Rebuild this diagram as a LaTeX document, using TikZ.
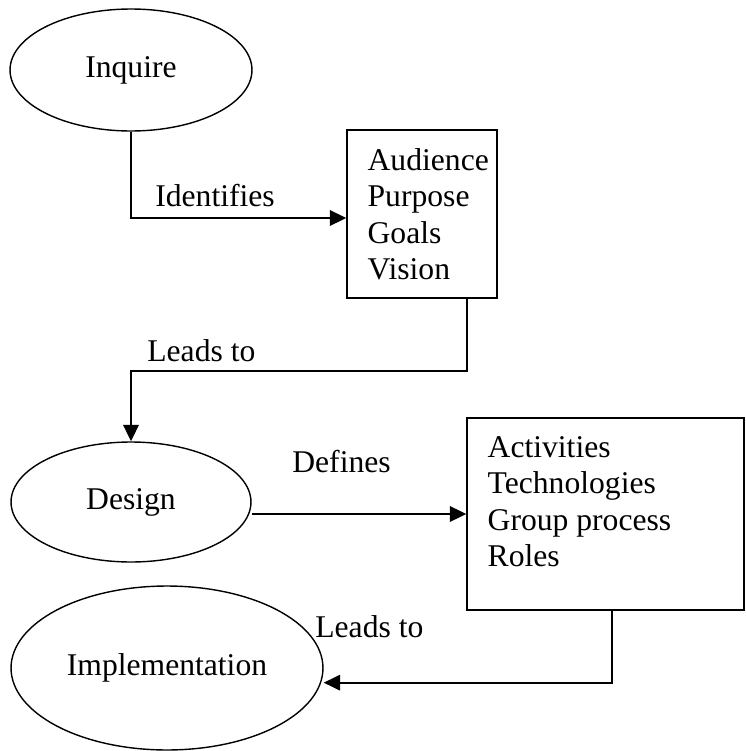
\documentclass[tikz,border=0pt]{standalone}
\usepackage{fontspec}
\setmainfont{Liberation Serif}
\usetikzlibrary{arrows.meta,positioning,shapes.geometric}

\tikzset{
  stage/.style={draw, ellipse, line width=0.8pt, inner sep=0pt},
  listbox/.style={draw, rectangle, line width=0.8pt, inner sep=0pt},
  listtext/.style={align=left, inner sep=0pt},
  linklabel/.style={anchor=base west, inner sep=0pt},
  flow/.style={line width=1.1pt, -{Triangle[length=0.33cm,width=0.31cm]}},
}

\begin{document}
\begin{tikzpicture}[x=0.02cm, y=-0.02cm, font=\fontsize{18}{20.8}\selectfont]
  \useasboundingbox (0,0) rectangle (745,751);

  % stages
  \node[stage, minimum width=4.84cm, minimum height=2.44cm] (inquire) at (131,70) {Inquire};
  \node[stage, minimum width=4.8cm, minimum height=2.4cm] (design) at (131,502) {Design};
  \node[stage, minimum width=6.24cm, minimum height=3.28cm] (implementation) at (167,668) {Implementation};

  % boxes and their lists
  \node[listbox, minimum width=3cm, minimum height=3.36cm] (aims) at (422,214) {};
  \node[listtext, below right=0.37cm and 0.42cm of aims.north west] (aimslist)
    {Audience\\Purpose\\Goals\\Vision};

  \node[listbox, minimum width=5.54cm, minimum height=3.84cm] (tasks) at (605.5,514) {};
  \node[listtext, below right=0.37cm and 0.42cm of tasks.north west] (taskslist)
    {Activities\\Technologies\\Group process\\Roles};

  % labels on the links
  \node[linklabel] (identifies) at (155,206) {Identifies};
  \node[linklabel] (leadsdesign) at (147,361) {Leads to};
  \node[linklabel] (defines) at (292,472) {Defines};
  \node[linklabel] (leadsimpl) at (315,637) {Leads to};

  % links
  \draw[flow] (inquire.south) |- ([yshift=-0.08cm]aims.west);
  \draw[flow] ([xshift=0.9cm]aims.south) -- ++(0,-1.44cm) -| (design.north);
  \draw[flow] (design.east |- tasks.west) -- (tasks.west);
  \draw[flow] ([xshift=0.13cm]tasks.south) -- ++(0,-1.44cm) coordinate (elbow)
    -- (elbow -| implementation.east);
\end{tikzpicture}
\end{document}
